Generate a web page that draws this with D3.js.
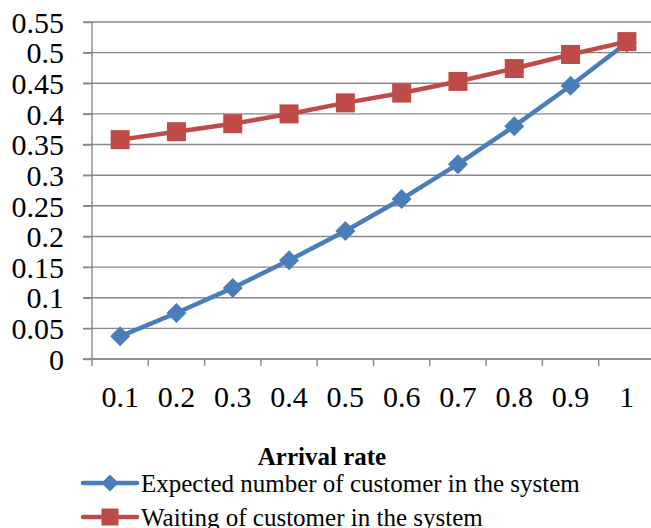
<!DOCTYPE html>
<html>
<head>
<meta charset="utf-8">
<script src="https://cdn.jsdelivr.net/npm/d3@7"></script>
<style>
  body { margin: 0; background: #fff; }
  svg text { font-family: "Liberation Serif", "Times New Roman", serif; fill: #000; }
  .axis path, .axis line { stroke: #878787; stroke-width: 1.4; }
  .grid line { stroke: #878787; stroke-width: 1.4; }
</style>
</head>
<body>
<svg width="651" height="528"></svg>
<script>
const categories = ["0.1", "0.2", "0.3", "0.4", "0.5", "0.6", "0.7", "0.8", "0.9", "1"];
const expectedCustomers = [0.037, 0.075, 0.116, 0.161, 0.209, 0.261, 0.318, 0.380, 0.446, 0.516];
const waitingCustomers  = [0.358, 0.371, 0.384, 0.400, 0.418, 0.434, 0.453, 0.474, 0.497, 0.518];
const yTicks = [0, 0.05, 0.1, 0.15, 0.2, 0.25, 0.3, 0.35, 0.4, 0.45, 0.5, 0.55];
const seriesNames = ["Expected number of customer in the system", "Waiting of customer in the system"];
const xTitle = "Arrival rate";

const plotL = 92, plotR = 655, plotT = 22, plotB = 359;
const svg = d3.select("svg");

const x = d3.scaleBand().domain(categories).range([plotL, plotR]).padding(0);
const y = d3.scaleLinear().domain([0, 0.55]).range([plotB, plotT]);

// horizontal gridlines (extend left to act as tick marks)
svg.append("g").attr("class", "grid")
  .selectAll("line")
  .data(yTicks)
  .join("line")
  .attr("x1", plotL - 9).attr("x2", 651)
  .attr("y1", d => y(d)).attr("y2", d => y(d));

// y axis
const yAxis = d3.axisLeft(y).tickValues(yTicks).tickSize(9).tickPadding(0)
  .tickFormat(d3.format("~g"));
const yG = svg.append("g").attr("class", "axis")
  .attr("transform", `translate(${plotL},0)`)
  .call(yAxis);
yG.select(".domain").remove();
yG.append("line").attr("x1", 0).attr("x2", 0).attr("y1", plotT).attr("y2", plotB);
yG.selectAll("text")
  .attr("x", -28)
  .attr("dy", "0.34em")
  .style("font-size", "30px");

// x axis: category ticks sit between categories
const xG = svg.append("g").attr("class", "axis");
xG.append("line").attr("x1", plotL).attr("x2", 651).attr("y1", plotB).attr("y2", plotB);
const boundaries = categories.map(c => x(c)).concat([x(categories[categories.length - 1]) + x.bandwidth()]);
xG.selectAll("line.tick")
  .data(boundaries)
  .join("line").attr("class", "tick")
  .attr("x1", d => d).attr("x2", d => d)
  .attr("y1", plotB).attr("y2", plotB + 7);
xG.selectAll("text")
  .data(categories)
  .join("text")
  .attr("x", d => x(d) + x.bandwidth() / 2)
  .attr("y", 407)
  .attr("text-anchor", "middle")
  .style("font-size", "30px")
  .text(d => d);

// axis title
svg.append("text")
  .attr("x", 322).attr("y", 465)
  .attr("text-anchor", "middle")
  .style("font-size", "25px").style("font-weight", "bold")
  .text(xTitle);

const colors = ["#4A7EBB", "#BE4B48"];
const line = d3.line()
  .x((d, i) => x(categories[i]) + x.bandwidth() / 2)
  .y(d => y(d));

function drawMarker(g, type, cx, cy, size) {
  if (type === "diamond") {
    g.append("path")
      .attr("d", `M${cx},${cy - size}L${cx + size},${cy}L${cx},${cy + size}L${cx - size},${cy}Z`)
      .attr("fill", colors[0]);
  } else {
    g.append("rect")
      .attr("x", cx - size).attr("y", cy - size)
      .attr("width", size * 2).attr("height", size * 2)
      .attr("fill", colors[1]);
  }
}

const seriesData = [expectedCustomers, waitingCustomers];
const markerTypes = ["diamond", "square"];

seriesData.forEach((vals, s) => {
  const g = svg.append("g");
  g.append("path")
    .datum(vals)
    .attr("d", line)
    .attr("fill", "none")
    .attr("stroke", colors[s])
    .attr("stroke-width", 4.5)
    .attr("stroke-linejoin", "round");
  vals.forEach((v, i) => {
    drawMarker(g, markerTypes[s], x(categories[i]) + x.bandwidth() / 2, y(v), s === 0 ? 10 : 9.5);
  });
});

// legend
const legend = svg.append("g");
seriesNames.forEach((name, s) => {
  const ly = 483 + s * 34;
  const item = legend.append("g");
  item.append("line")
    .attr("x1", 83).attr("x2", 137).attr("y1", ly).attr("y2", ly)
    .attr("stroke", colors[s]).attr("stroke-width", 4.5).attr("stroke-linecap", "round");
  drawMarker(item, markerTypes[s], 110, ly, 8.5);
  item.append("text")
    .attr("x", 141).attr("y", ly + 9)
    .style("font-size", "25px")
    .text(name);
});
</script>
</body>
</html>
